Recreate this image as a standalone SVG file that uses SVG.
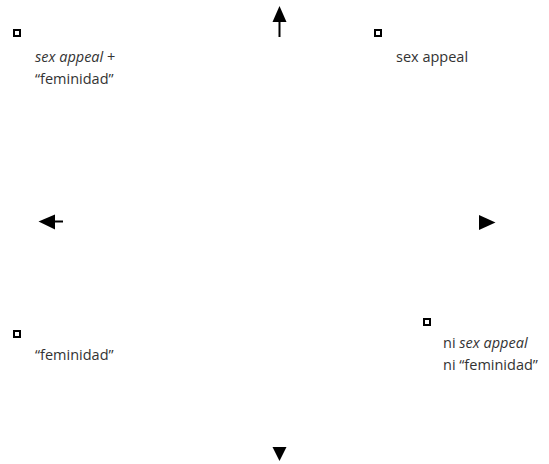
<svg xmlns="http://www.w3.org/2000/svg" width="549" height="464" viewBox="0 0 549 464">
<style>
.t{font-family:"Open Sans","Noto Sans","Liberation Sans",sans-serif;font-size:14.5px;fill:#333;}
.i{font-style:italic;}
.sq{fill:none;stroke:#000;stroke-width:2;}
.ar{fill:#000;}
.st{stroke:#000;stroke-width:2;fill:none;}
</style>
<rect width="549" height="464" fill="#fff"/>
<g id="connectors">
<polygon class="ar" points="279.5,6 272.5,22 286.5,22"/>
<line class="st" x1="279.5" y1="22" x2="279.5" y2="37"/>
<polygon class="ar" points="38.5,221.5 55,214.5 55,229.5"/>
<line class="st" x1="55" y1="221.5" x2="63" y2="221.5" stroke-width="2.5"/>
<polygon class="ar" points="495.5,222.5 479,215 479,230"/>
<polygon class="ar" points="279.5,461 272.5,447 286.5,447"/>
</g>
<g id="node-tl">
<rect class="sq" x="14" y="30" width="6" height="6"/>
<text class="t" x="35" y="62"><tspan class="i">sex appeal</tspan> +</text>
<text class="t" x="35" y="84">“feminidad”</text>
</g>
<g id="node-tr">
<rect class="sq" x="375" y="30" width="6" height="6"/>
<text class="t" x="396" y="62">sex appeal</text>
</g>
<g id="node-bl">
<rect class="sq" x="14" y="331" width="6" height="6"/>
<text class="t" x="35" y="360">“feminidad”</text>
</g>
<g id="node-br">
<rect class="sq" x="424" y="319" width="6" height="6"/>
<text class="t" x="443" y="348">ni <tspan class="i">sex appeal</tspan></text>
<text class="t" x="443" y="370">ni “feminidad”</text>
</g>
</svg>
